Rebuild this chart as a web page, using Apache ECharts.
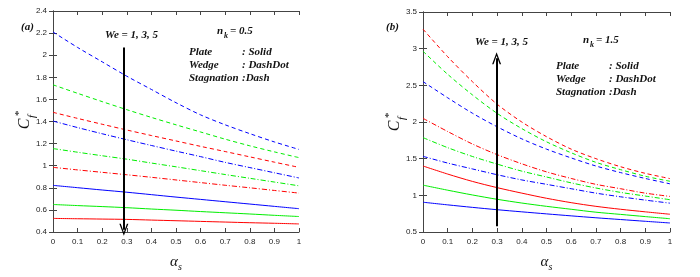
<!DOCTYPE html>
<html><head><meta charset="utf-8">
<script src="https://cdn.jsdelivr.net/npm/echarts@6/dist/echarts.min.js"></script>
<style>html,body{margin:0;padding:0;background:#fff}#c{width:700px;height:277px}</style>
</head><body><div id="c"></div>
<script>
// x values (alpha_s)
const alphaS = [0, 0.1, 0.2, 0.3, 0.4, 0.5, 0.6, 0.7, 0.8, 0.9, 1];
const xTicks = ['0','0.1','0.2','0.3','0.4','0.5','0.6','0.7','0.8','0.9','1'];

// Panel (a) n_k = 0.5 ; We = 1 (blue), 3 (green), 5 (red)
const aPlateWe1 = [0.822, 0.801, 0.780, 0.760, 0.738, 0.716, 0.695, 0.674, 0.653, 0.632, 0.611];
const aPlateWe3 = [0.649, 0.639, 0.630, 0.620, 0.608, 0.597, 0.585, 0.574, 0.563, 0.551, 0.540];
const aPlateWe5 = [0.523, 0.520, 0.517, 0.514, 0.508, 0.502, 0.496, 0.490, 0.484, 0.479, 0.473];
const aWedgeWe1 = [1.404, 1.345, 1.289, 1.235, 1.183, 1.132, 1.082, 1.030, 0.983, 0.936, 0.889];
const aWedgeWe3 = [1.155, 1.122, 1.090, 1.059, 1.024, 0.990, 0.955, 0.920, 0.886, 0.852, 0.818];
const aWedgeWe5 = [0.985, 0.962, 0.940, 0.918, 0.895, 0.871, 0.847, 0.823, 0.800, 0.776, 0.752];
const aStagWe1 = [2.210, 2.070, 1.940, 1.810, 1.690, 1.570, 1.460, 1.370, 1.290, 1.215, 1.147];
const aStagWe3 = [1.732, 1.655, 1.580, 1.507, 1.437, 1.370, 1.305, 1.240, 1.180, 1.125, 1.073];
const aStagWe5 = [1.483, 1.428, 1.375, 1.323, 1.273, 1.224, 1.175, 1.128, 1.080, 1.032, 0.985];

// Panel (b) n_k = 1.5
const bPlateWe1 = [0.906, 0.870, 0.836, 0.804, 0.775, 0.747, 0.720, 0.694, 0.670, 0.646, 0.623];
const bPlateWe3 = [1.139, 1.070, 1.005, 0.946, 0.895, 0.850, 0.810, 0.770, 0.740, 0.710, 0.681];
const bPlateWe5 = [1.400, 1.290, 1.190, 1.105, 1.030, 0.960, 0.900, 0.850, 0.810, 0.775, 0.742];
const bWedgeWe1 = [1.532, 1.440, 1.360, 1.281, 1.210, 1.150, 1.090, 1.030, 0.980, 0.935, 0.893];
const bWedgeWe3 = [1.787, 1.650, 1.530, 1.426, 1.330, 1.250, 1.170, 1.100, 1.040, 0.990, 0.940];
const bWedgeWe5 = [2.050, 1.870, 1.700, 1.555, 1.430, 1.320, 1.230, 1.150, 1.090, 1.030, 0.985];
const bStagWe1 = [2.551, 2.330, 2.120, 1.935, 1.770, 1.630, 1.510, 1.400, 1.310, 1.230, 1.157];
const bStagWe3 = [2.965, 2.650, 2.370, 2.118, 1.910, 1.730, 1.580, 1.450, 1.350, 1.260, 1.192];
const bStagWe5 = [3.266, 2.890, 2.550, 2.243, 2.000, 1.800, 1.630, 1.500, 1.390, 1.300, 1.228];

// Arrow annotation ends (data coords)
const arrowA = {x: 0.288, from: 2.07, to: 0.42};
const arrowB = {x: 0.298, from: 0.58, to: 2.87};

const BLUE = '#0000ff', GREEN = '#00ee00', RED = '#ff0000';
const DASH = [4, 3], DASHDOT = [5, 2, 1, 2];
const chevron = 'path://M0,12 L5,0 L10,12 L8.4,12 L5,3.6 L1.6,12 Z';

function pairs(ys) { return alphaS.map((x, i) => [x, ys[i]]); }
function line(idx, ys, color, type, extra) {
  return Object.assign({
    type: 'line', xAxisIndex: idx, yAxisIndex: idx, data: pairs(ys), showSymbol: false,
    symbol: 'none', smooth: 0.3, silent: true,
    lineStyle: {color: color, width: 1, type: type}
  }, extra || {});
}
function arrowMark(a) {
  return {markLine: {silent: true, animation: false, symbol: ['none', chevron], symbolSize: [9, 12],
    label: {show: false}, lineStyle: {color: '#000', width: 2, type: 'solid'},
    data: [[{coord: [a.x, a.from]}, {coord: [a.x, a.to]}]]}};
}

const tickFont = {fontFamily: 'Liberation Sans', fontSize: 8, color: '#222'};
const axisLine = {show: true, lineStyle: {color: '#444', width: 1}};

function mkX(gi, pos, labels) {
  return {type: 'value', gridIndex: gi, position: pos, min: 0, max: 1, interval: 0.1,
    axisLine: axisLine, axisTick: {show: true, inside: true, length: 4, lineStyle: {color: '#444'}},
    splitLine: {show: false},
    axisLabel: Object.assign({show: labels, margin: 6, formatter: v => xTicks[Math.round(v * 10)]}, tickFont),
    name: labels ? '{a|α}{s|s}' : '', nameLocation: 'middle', nameGap: 21,
    nameTextStyle: {rich: {a: {fontFamily: 'Liberation Serif', fontStyle: 'italic', fontSize: 15, color: '#111'},
      s: {fontFamily: 'Liberation Serif', fontStyle: 'italic', fontSize: 10, color: '#111', padding: [9, 0, 0, 0]}}}};
}
function mkY(gi, pos, min, max, itv, labels) {
  return {type: 'value', gridIndex: gi, position: pos, min: min, max: max, interval: itv,
    axisLine: axisLine, axisTick: {show: true, inside: true, length: 4, lineStyle: {color: '#444'}},
    splitLine: {show: false},
    axisLabel: Object.assign({show: labels, margin: 6}, tickFont)};
}

const serifBI = {fontFamily: 'Liberation Serif', fontStyle: 'italic', fontWeight: 'bold', fill: '#111'};
function txt(x, y, s, size, extra) {
  return {type: 'text', left: x, top: y, silent: true,
    style: Object.assign({text: s, fontSize: size, verticalAlign: 'middle'}, serifBI, extra || {})};
}
function txtAt(x, y, s, size) {
  return {type: 'text', x: x, y: y, silent: true,
    style: Object.assign({text: s, fontSize: size, textVerticalAlign: 'middle', verticalAlign: 'middle'}, serifBI)};
}
function cf(x, y) {
  return {type: 'group', x: x, y: y, rotation: Math.PI / 2, silent: true, children: [
    {type: 'text', x: 0, y: 0, style: {text: 'C', fontFamily: 'Liberation Serif', fontStyle: 'italic', fontSize: 16, fill: '#111', align: 'center', verticalAlign: 'middle'}},
    {type: 'text', x: 8, y: -6, style: {text: '*', fontFamily: 'Liberation Serif', fontSize: 11, fill: '#111', align: 'left', verticalAlign: 'middle'}},
    {type: 'text', x: 6, y: 7, style: {text: 'f', fontFamily: 'Liberation Serif', fontStyle: 'italic', fontSize: 11, fill: '#111', align: 'left', verticalAlign: 'middle'}}
  ]};
}
function annot(px, py, panel, we, nk) {
  // px,py: anchor positions
  return [];
}

const graphics = [
  txtAt(21, 27, '(a)', 11),
  txtAt(105, 35, 'We = 1, 3, 5', 11),
  txtAt(217, 31, 'n', 11), txtAt(224, 36, 'k', 8), txtAt(230, 31, '= 0.5', 11),
  txtAt(189, 52, 'Plate', 11), txtAt(242, 52, ': Solid', 11),
  txtAt(189, 65, 'Wedge', 11), txtAt(242, 65, ': DashDot', 11),
  txtAt(189, 78, 'Stagnation', 11), txtAt(242, 78, ':Dash', 11),
  cf(25, 124),

  txtAt(386, 27, '(b)', 11),
  txtAt(475, 42, 'We = 1, 3, 5', 11),
  txtAt(583, 40, 'n', 11), txtAt(590, 45, 'k', 8), txtAt(596, 40, '= 1.5', 11),
  txtAt(556, 66, 'Plate', 11), txtAt(609, 66, ': Solid', 11),
  txtAt(556, 79, 'Wedge', 11), txtAt(609, 79, ': DashDot', 11),
  txtAt(556, 92, 'Stagnation', 11), txtAt(609, 92, ':Dash', 11),
  cf(395, 126)
];

const chart = echarts.init(document.getElementById('c'), null, {renderer: 'canvas'});
chart.setOption({
  animation: false,
  backgroundColor: '#fff',
  grid: [
    {left: 53, top: 11, width: 246, height: 227},
    {left: 423, top: 12, width: 247, height: 227}
  ],
  xAxis: [mkX(0, 'bottom', true), mkX(1, 'bottom', true), mkX(0, 'top', false), mkX(1, 'top', false)],
  yAxis: [mkY(0, 'left', 0.4, 2.4, 0.2, true), mkY(1, 'left', 0.5, 3.5, 0.5, true),
          mkY(0, 'right', 0.4, 2.4, 0.2, false), mkY(1, 'right', 0.5, 3.5, 0.5, false)],
  series: [
    line(0, aStagWe1, BLUE, DASH), line(0, aStagWe3, GREEN, DASH), line(0, aStagWe5, RED, DASH),
    line(0, aWedgeWe1, BLUE, DASHDOT), line(0, aWedgeWe3, GREEN, DASHDOT), line(0, aWedgeWe5, RED, DASHDOT),
    line(0, aPlateWe1, BLUE, 'solid'), line(0, aPlateWe3, GREEN, 'solid'), line(0, aPlateWe5, RED, 'solid', arrowMark(arrowA)),
    line(1, bStagWe1, BLUE, DASH), line(1, bStagWe3, GREEN, DASH), line(1, bStagWe5, RED, DASH),
    line(1, bWedgeWe1, BLUE, DASHDOT), line(1, bWedgeWe3, GREEN, DASHDOT), line(1, bWedgeWe5, RED, DASHDOT),
    line(1, bPlateWe1, BLUE, 'solid'), line(1, bPlateWe3, GREEN, 'solid'), line(1, bPlateWe5, RED, 'solid', arrowMark(arrowB))
  ],
  graphic: graphics
});
</script></body></html>
